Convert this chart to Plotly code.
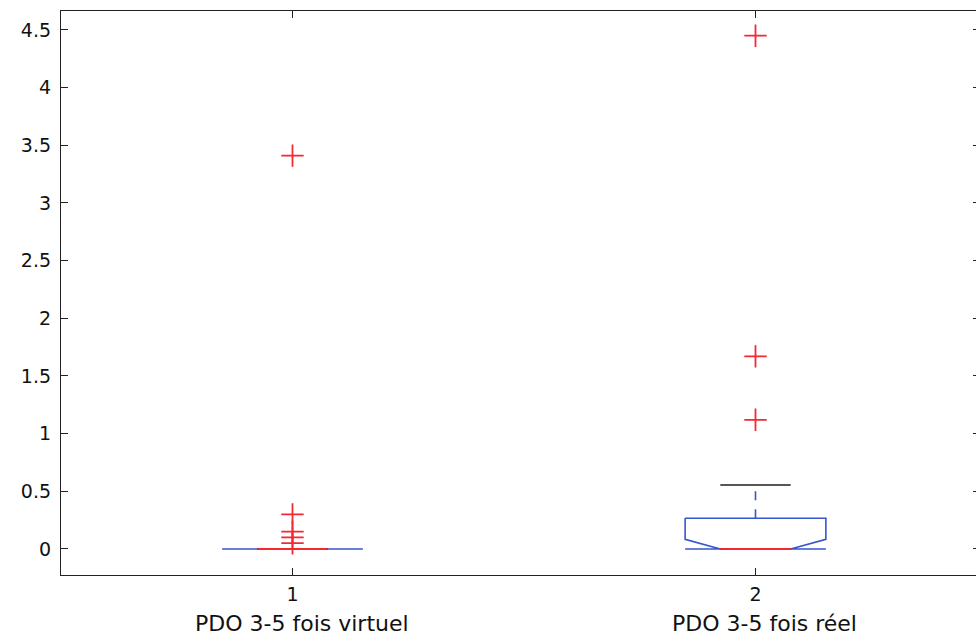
import plotly.graph_objects as go

# Box summary statistics for each group
groups = ["PDO 3-5 fois virtuel", "PDO 3-5 fois réel"]
positions = [1, 2]
q1 = [0.0, 0.0]
median = [0.0, 0.0]
q3 = [0.0, 0.266]
whisker_lo = [0.0, 0.0]
whisker_hi = [0.0, 0.555]
notch_half = [0.0, 0.084]
outliers = [
    [3.41, 0.30, 0.15, 0.10, 0.05],
    [4.45, 1.67, 1.12],
]

y_ticks = [0, 0.5, 1, 1.5, 2, 2.5, 3, 3.5, 4, 4.5]
y_tick_text = ["0", "0.5", "1", "1.5", "2", "2.5", "3", "3.5", "4", "4.5"]

BLUE = "rgb(55,85,205)"
RED = "rgb(245,40,50)"
CAP = "rgb(30,30,30)"
HALF_W = 0.152  # half width of a box in x units
FONT = "DejaVu Sans"

fig = go.Figure()

for i, x in enumerate(positions):
    lo_n = max(median[i] - notch_half[i], q1[i])
    hi_n = min(median[i] + notch_half[i], q3[i])
    w = HALF_W
    # notched box outline
    bx = [x - w, x + w, x + w, x + w / 2, x + w, x + w, x - w, x - w, x - w / 2, x - w, x - w]
    by = [q3[i], q3[i], hi_n, median[i], lo_n, q1[i], q1[i], lo_n, median[i], hi_n, q3[i]]
    fig.add_trace(go.Scatter(x=bx, y=by, mode="lines",
                             line=dict(color=BLUE, width=1.6), hoverinfo="skip"))
    # dashed whiskers
    fig.add_trace(go.Scatter(x=[x, x, None, x, x],
                             y=[q3[i], whisker_hi[i], None, q1[i], whisker_lo[i]],
                             mode="lines", line=dict(color=BLUE, width=1.6, dash="dash"),
                             hoverinfo="skip"))
    # whisker caps
    fig.add_trace(go.Scatter(x=[x - w / 2, x + w / 2, None, x - w / 2, x + w / 2],
                             y=[whisker_hi[i], whisker_hi[i], None, whisker_lo[i], whisker_lo[i]],
                             mode="lines", line=dict(color=CAP, width=1.6), hoverinfo="skip"))
    # median
    fig.add_trace(go.Scatter(x=[x - w / 2, x + w / 2], y=[median[i], median[i]],
                             mode="lines", line=dict(color=RED, width=2), hoverinfo="skip"))

for i, x in enumerate(positions):
    fig.add_trace(go.Scatter(x=[x] * len(outliers[i]), y=outliers[i], mode="markers",
                             marker=dict(symbol="cross-thin-open", size=16, color=RED,
                                         line=dict(color=RED, width=1.8)),
                             hoverinfo="skip"))

# helper trace so the right-hand tick axis is rendered
fig.add_trace(go.Scatter(x=[], y=[], yaxis="y2", showlegend=False))

y_range = [-0.2255, 4.664]

for x, name in zip(positions, groups):
    fig.add_annotation(x=x, y=0, xref="x", yref="paper", text=name, showarrow=False,
                       yshift=-48, xshift=9, yanchor="middle",
                       font=dict(family=FONT, size=22, color="#111"))

fig.update_layout(
    width=976, height=635,
    margin=dict(l=61, r=0, t=11, b=60),
    paper_bgcolor="white", plot_bgcolor="white",
    showlegend=False,
    xaxis=dict(range=[0.5, 0.5 + 915 / 463], tickvals=positions,
               ticktext=[str(p) for p in positions],
               ticks="inside", ticklen=7, tickcolor="#222", tickwidth=1.2,
               showline=True, linecolor="#222", linewidth=1.3, mirror="ticks",
               showgrid=False, zeroline=False, ticklabelstandoff=2,
               tickfont=dict(family=FONT, size=19, color="#111")),
    yaxis=dict(range=y_range, tickvals=y_ticks, ticktext=y_tick_text,
               ticks="inside", ticklen=7, tickcolor="#222", tickwidth=1.2,
               showline=True, linecolor="#222", linewidth=1.3, mirror=False,
               showgrid=False, zeroline=False, ticklabelstandoff=5,
               tickfont=dict(family=FONT, size=19, color="#111")),
    yaxis2=dict(range=y_range, tickvals=y_ticks, overlaying="y", side="right",
                ticks="inside", ticklen=3, tickcolor="#222", tickwidth=1.2,
                showline=False, showgrid=False, zeroline=False, showticklabels=False),
)

fig.write_html("out.html")
